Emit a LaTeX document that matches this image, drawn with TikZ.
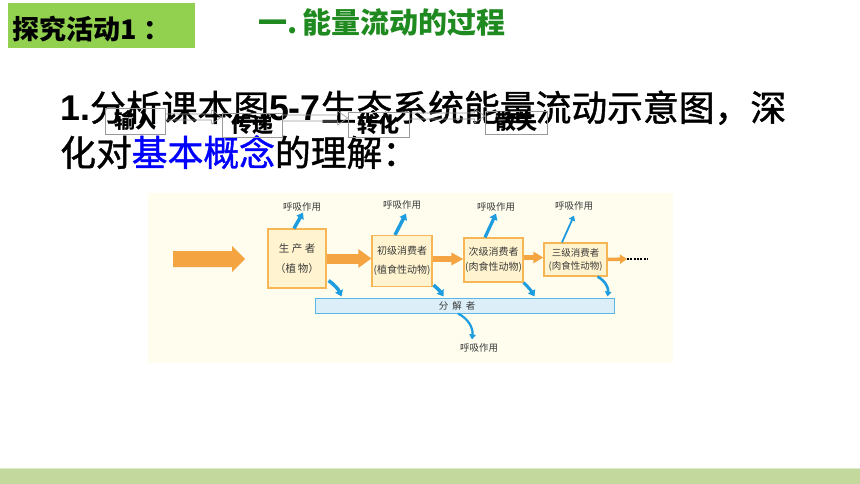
\documentclass[tikz,border=0pt]{standalone}
\usepackage{fontspec}
\setmainfont{Liberation Sans}
\newfontfamily\cjk{Noto Sans CJK SC}
\newfontfamily\cjkfb{Noto Sans CJK SC}[FakeBold=1.2]
\usetikzlibrary{arrows.meta,calc}
\definecolor{titlegreen}{HTML}{92D050}
\definecolor{darkgreen}{HTML}{1F8A1F}
\definecolor{bgcream}{HTML}{FEFDEE}
\definecolor{orgfill}{HTML}{FFF4CF}
\definecolor{orgline}{HTML}{F6B655}
\definecolor{orgarrow}{HTML}{F4A542}
\definecolor{bluearrow}{HTML}{1E9CE0}
\definecolor{decofill}{HTML}{DCEFF9}
\definecolor{decoline}{HTML}{5AB6E4}
\definecolor{barfill}{HTML}{C3D89D}
\definecolor{barline}{HTML}{DDEBCB}
\definecolor{txtgray}{HTML}{3A3A3A}
\definecolor{keyblue}{HTML}{0000FF}
\begin{document}
\begin{tikzpicture}[x=1pt,y=-1pt,
  orgbox/.style={draw=orgline, fill=orgfill, line width=1.2pt, inner sep=0pt, align=center,
    font=\cjk\fontsize{10.5}{20}\selectfont, text=txtgray},
  resp/.style={font=\cjk\fontsize{9.5}{11}\selectfont, text=txtgray, inner sep=0pt},
  bluearr/.style={draw=bluearrow, line width=3.5pt, -{Triangle[length=6pt,width=8pt]}},
  thinblue/.style={draw=bluearrow, line width=2.2pt, -{Triangle[length=5pt,width=6.5pt]}},
  keybox/.style={draw=gray!80, line width=0.7pt, inner sep=0pt,
    font=\cjk\bfseries\fontsize{21}{21}\selectfont},
  hollowarr/.style={draw=gray!80, line width=0.6pt},
  bigtext/.style={inner sep=0pt, anchor=base west, font=\cjkfb\fontsize{35.8}{35.8}\selectfont},
]
\useasboundingbox (0,0) rectangle (860,484);
\fill[white] (0,0) rectangle (860,484);

% header
\fill[titlegreen] (8,3) rectangle (195,48);
\node[inner sep=0pt, anchor=base west, font=\cjk\bfseries\fontsize{27}{27}\selectfont] (t1) at (12,40) {探究活动1\hspace{7pt}：};
\node[inner sep=0pt, anchor=base west, text=darkgreen, font=\cjk\bfseries\fontsize{29}{29}\selectfont] (t2) at (258,34) {一.\,能量流动的过程};

% main text
\node[bigtext] (l1) at (60,121) {{\rmfamily\bfseries 1.}分析课本图{\rmfamily\bfseries 5-7}生态系统能量流动示意图，深};
\node[bigtext] (l2) at (60,166) {化对{\color{keyblue}基本概念}的理解：};

% key boxes
\node[keybox, minimum width=60pt, minimum height=26pt] (kb1) at (135,121) {\raisebox{3pt}{输入}};
\node[keybox, minimum width=60pt, minimum height=24pt] (kb2) at (252,125) {\raisebox{3pt}{传递}};
\node[keybox, minimum width=61pt, minimum height=25pt] (kb3) at (378.5,124.5) {\raisebox{3pt}{转化}};
\node[keybox, minimum width=62pt, minimum height=23pt] (kb4) at (516,122.5) {\raisebox{3pt}{散失}};
\draw[hollowarr] (kb1.east |- 0,114) -- ($(kb2.west |- 0,114)+(-10,0)$) -- ($(kb2.west |- 0,110)+(-10,0)$)
  -- (kb2.west |- 0,117) -- ($(kb2.west |- 0,124)+(-10,0)$) -- ($(kb2.west |- 0,120)+(-10,0)$) -- (kb1.east |- 0,120);
\draw[hollowarr] (kb2.east |- 0,115) -- ($(kb3.west |- 0,115)+(-10,0)$) -- ($(kb3.west |- 0,111)+(-10,0)$)
  -- (kb3.west |- 0,118) -- ($(kb3.west |- 0,125)+(-10,0)$) -- ($(kb3.west |- 0,121)+(-10,0)$) -- (kb2.east |- 0,121);
\draw[hollowarr] (kb3.east |- 0,113) -- ($(kb4.west |- 0,113)+(-10,0)$) -- ($(kb4.west |- 0,109)+(-10,0)$)
  -- (kb4.west |- 0,116) -- ($(kb4.west |- 0,123)+(-10,0)$) -- ($(kb4.west |- 0,119)+(-10,0)$) -- (kb3.east |- 0,119);

% diagram background
\fill[bgcream] (148,193) rectangle (673,363);

% input arrow
\coordinate (in0) at (173,259);
\coordinate (in1) at (245,259);
\fill[orgarrow] (in0) ++(0,-8) -- ++(59,0) -- ++(0,-5) -- (in1) -- ++(-13,13) -- ++(0,-5) -- ++(-59,0) -- cycle;

% boxes
\node[orgbox, minimum width=58pt, minimum height=59pt] (prod) at (297,258.5) {生\hspace{2.5pt}产\hspace{2.5pt}者\\（植\hspace{2pt}物）};
\node[orgbox, minimum width=60pt, minimum height=51pt, font=\cjk\fontsize{10}{19}\selectfont] (prim) at (402,261) {初级消费者\\(植食性动物)};
\node[orgbox, minimum width=59pt, minimum height=44pt, font=\cjk\fontsize{10}{15.5}\selectfont] (sec) at (493.5,260) {次级消费者\\(肉食性动物)};
\node[orgbox, minimum width=63pt, minimum height=33pt, font=\cjk\fontsize{9.5}{13}\selectfont] (ter) at (575.5,259.5) {三级消费者\\(肉食性动物)};
\node[draw=decoline, fill=decofill, line width=1pt, minimum width=299pt, minimum height=15pt, inner sep=0pt] (deco) at (464.5,305.5) {};
\node[resp] (decolbl) at (457,305.5) {分\hspace{4pt}解\hspace{4pt}者};

% orange flow arrows
\draw[orgarrow, line width=10pt, -{Triangle[length=13pt,width=18pt]}] (prod.east) -- (prod.east -| prim.west);
\draw[orgarrow, line width=6pt, -{Triangle[length=12pt,width=12pt]}] ([yshift=2pt]prim.east) -- ([yshift=2pt]prim.east -| sec.west);
\draw[orgarrow, line width=5pt, -{Triangle[length=10pt,width=11pt]}] ([yshift=2.5pt]sec.east) -- ([yshift=2.5pt]sec.east -| ter.west);
\coordinate (dots) at (627,259);
\draw[orgarrow, line width=3.5pt, -{Triangle[length=7pt,width=9pt]}] (ter.east) -- (dots);
\draw[black, line width=2.6pt, dash pattern=on 2pt off 1.3pt] (dots) -- ++(20,0);

% respiration labels
\node[resp] (r1) at (302,207) {呼吸作用};
\node[resp] (r2) at (402,205) {呼吸作用};
\node[resp] (r3) at (496,207) {呼吸作用};
\node[resp] (r4) at (574,206) {呼吸作用};
\node[resp] (r5) at (479,348) {呼吸作用};

% blue arrows up
\draw[bluearr] ([xshift=-3pt]prod.north) -- ([xshift=1pt,yshift=-1pt]r1.south);
\draw[bluearr] ([xshift=-7pt]prim.north) -- ([xshift=4pt,yshift=-4pt]r2.south);
\draw[bluearr, line width=3.2pt] ([xshift=-8.5pt]sec.north) -- ([yshift=-2pt]r3.south);
\draw[thinblue, line width=1.8pt] ([xshift=-13.5pt]ter.north) -- ([yshift=-5pt]r4.south);

% blue arrows down
\draw[bluearr] ([xshift=2pt,yshift=8pt]prod.south east) to[bend left=15] ([xshift=27pt,yshift=1pt]deco.north west);
\draw[bluearr] ([xshift=1pt,yshift=2pt]prim.south east) to[bend left=8] ([xshift=129pt,yshift=1pt]deco.north west);
\draw[bluearr, line width=3pt] (sec.south east) to[bend left=8] ([xshift=220pt,yshift=1pt]deco.north west);
\draw[thinblue, line width=2.6pt] ([xshift=22pt]ter.south) to[bend left=35] ([xshift=293pt,yshift=1pt]deco.north west);
\draw[thinblue] ([xshift=-6.5pt]deco.south) to[bend left=35] ([xshift=-7pt,yshift=4pt]r5.north);

% bottom bar
\fill[barfill] (0,469) rectangle (860,484);
\draw[barline, line width=1pt] (0,468.5) -- (860,468.5);
\end{tikzpicture}
\end{document}
